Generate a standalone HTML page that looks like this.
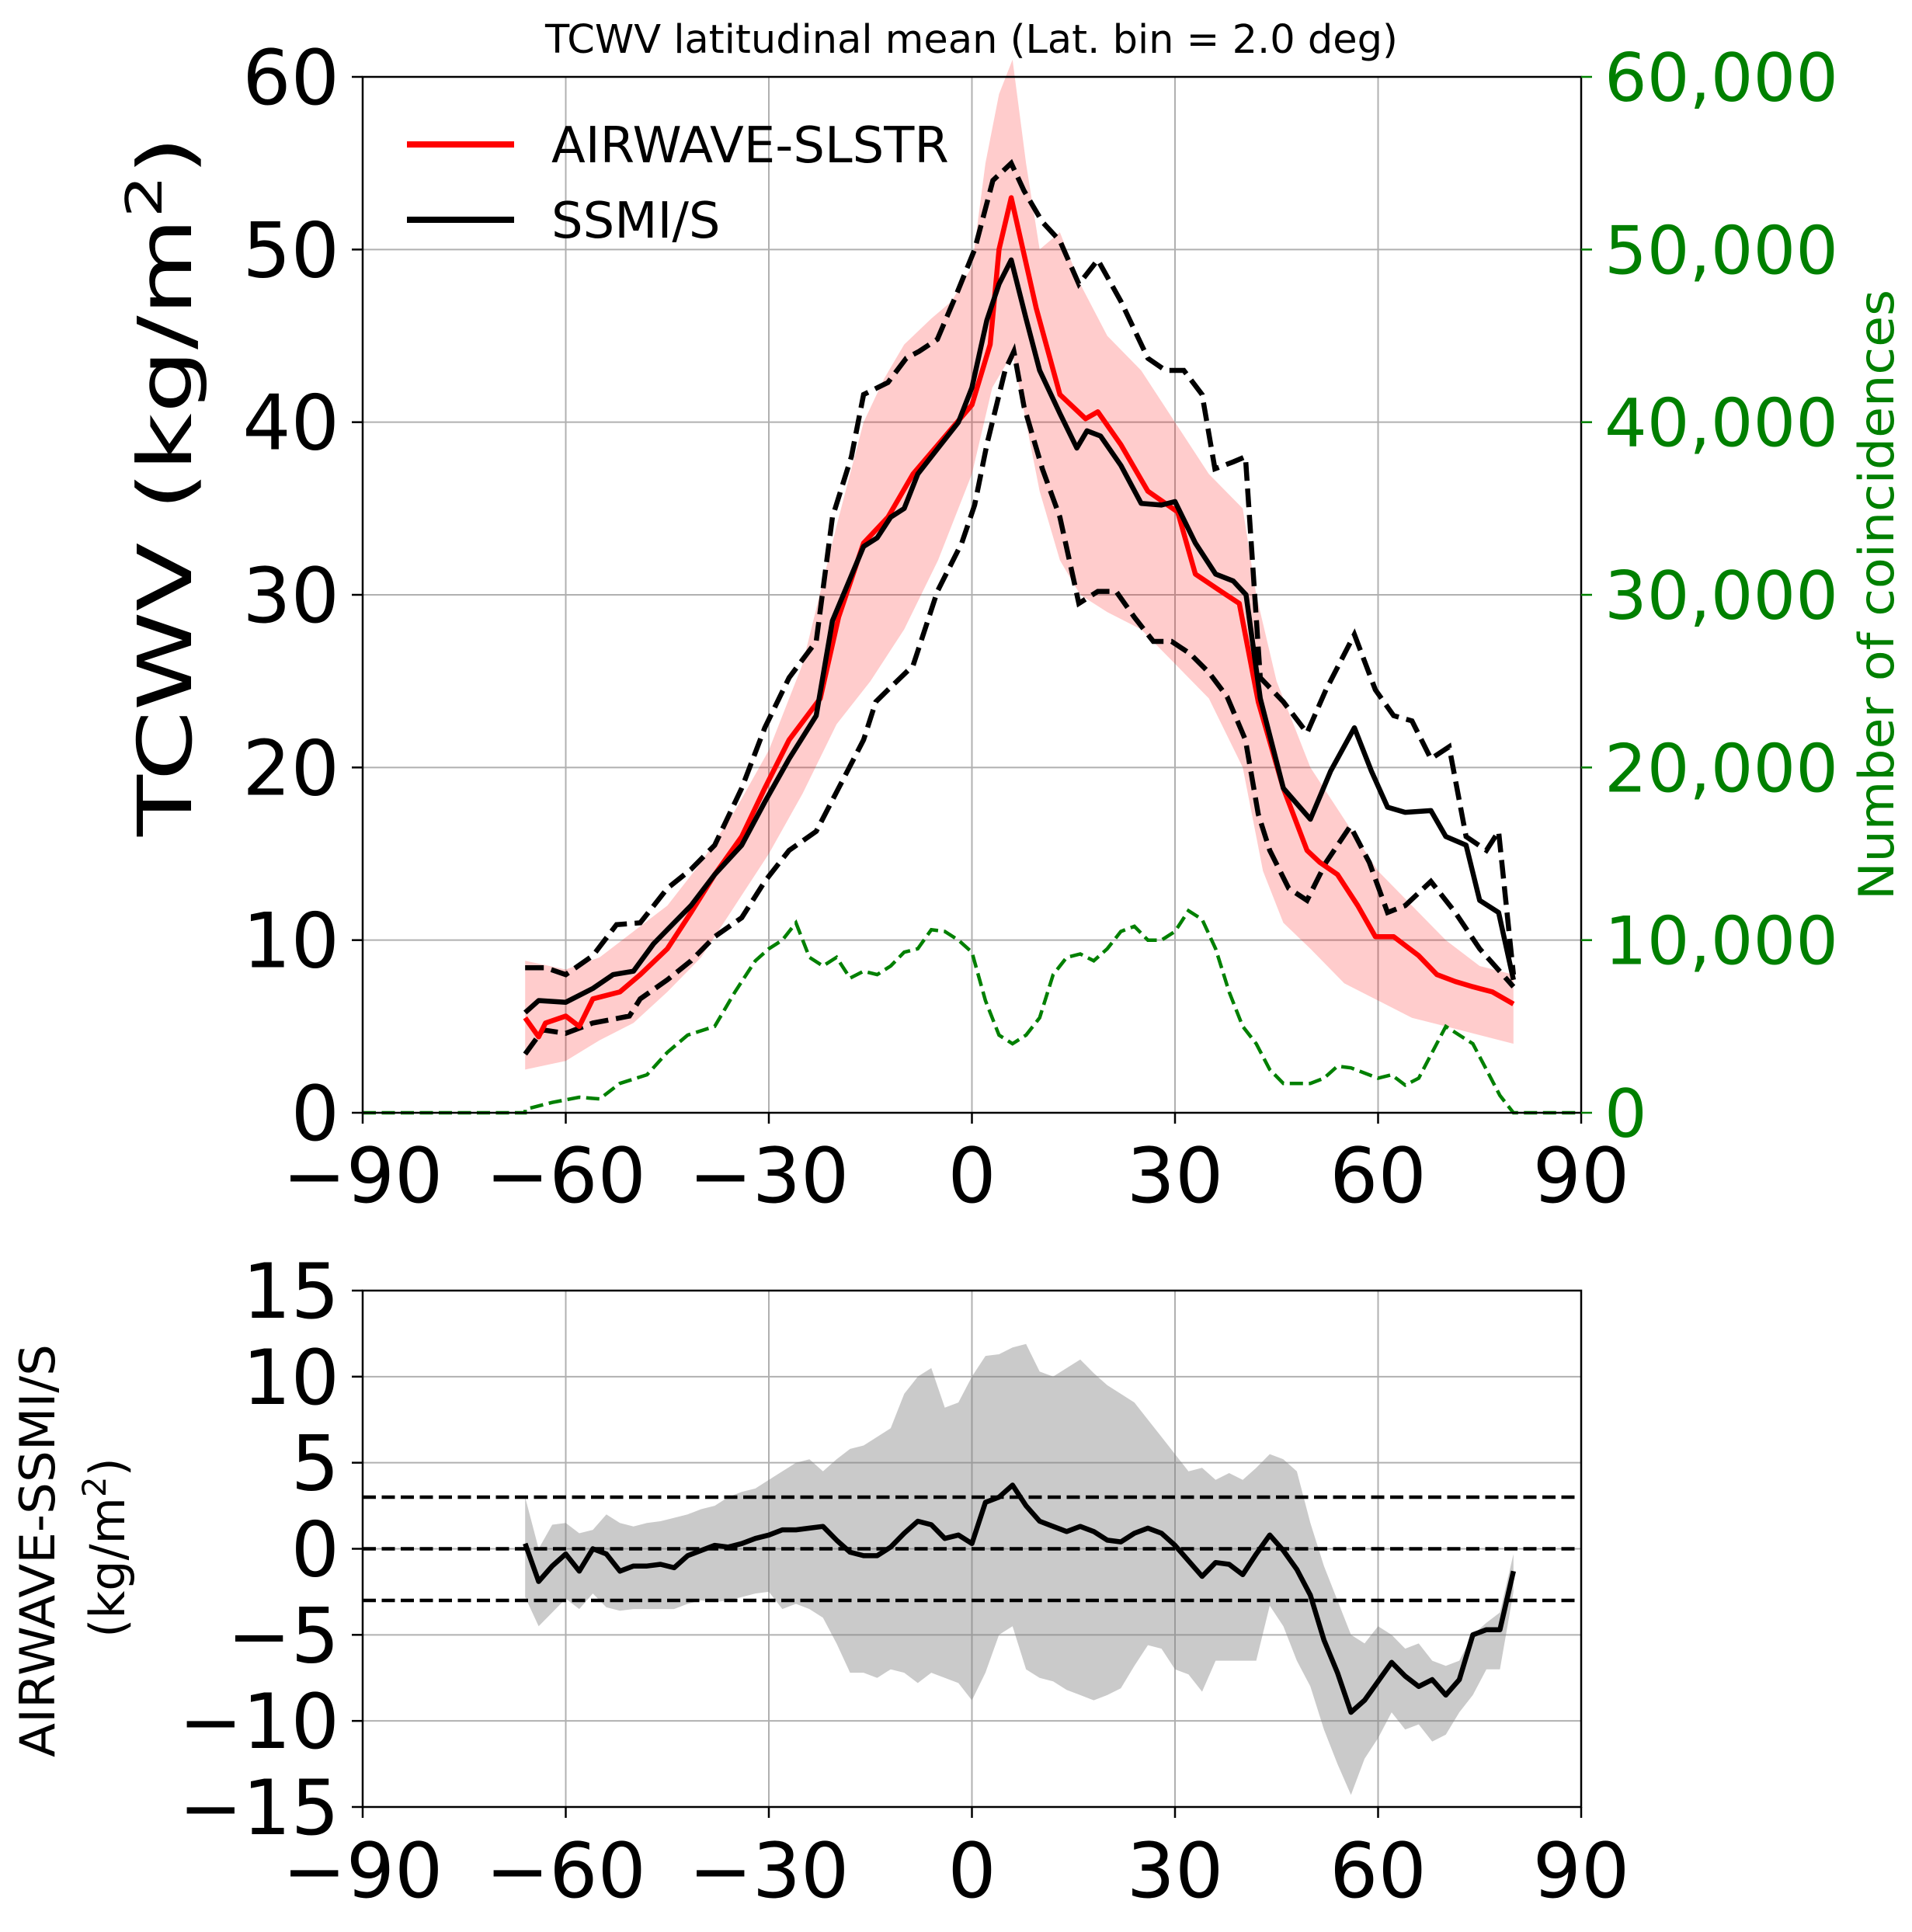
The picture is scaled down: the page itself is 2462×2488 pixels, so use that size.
<!DOCTYPE html>
<html><head><meta charset="utf-8"><style>
html,body{margin:0;padding:0;background:#fff;}
svg{display:block;font-family:"DejaVu Sans","Liberation Sans",sans-serif;}
</style></head><body>
<svg id="s" width="2462" height="2488" viewBox="0 0 2462 2488" xmlns="http://www.w3.org/2000/svg">
<rect width="2462" height="2488" fill="#fff"/>
<g id="g"></g>
<text x="1251" y="68" font-size="51" text-anchor="middle">TCWV latitudinal mean (Lat. bin = 2.0 deg)</text>
<text transform="translate(246,626) rotate(-90)" font-size="96" text-anchor="middle" textLength="902" lengthAdjust="spacingAndGlyphs">TCWV (kg/m<tspan font-size="64" dy="-38">2</tspan><tspan dy="38">)</tspan></text>
<text transform="translate(2438,766) rotate(-90)" font-size="62" fill="#008000" text-anchor="middle" textLength="786" lengthAdjust="spacingAndGlyphs">Number of coincidences</text>
<text transform="translate(70,1997) rotate(-90)" font-size="62" text-anchor="middle" textLength="532" lengthAdjust="spacingAndGlyphs">AIRWAVE-SSMI/S</text>
<text transform="translate(160,1993) rotate(-90)" font-size="62" text-anchor="middle">(kg/m<tspan font-size="42" dy="-24">2</tspan><tspan dy="24">)</tspan></text>
<line x1="524" y1="186" x2="662" y2="186" stroke="#f00" stroke-width="8"/>
<line x1="524" y1="283" x2="662" y2="283" stroke="#000" stroke-width="8"/>
<text x="710" y="209" font-size="64">AIRWAVE-SLSTR</text>
<text x="710" y="306" font-size="64">SSMI/S</text>
</svg>
<script>
const L=467,R=2036,T1=99,B1=1433,T2=1662,B2=2327;
const X=l=>L+(l+90)*(R-L)/180;
const Y1=v=>B1-v*(B1-T1)/60;
const Y2=v=>(T2+B2)/2-v*(B2-T2)/30;
let h='';
function pl(pts,fx,fy){return pts.map((p,i)=>(i?'L':'M')+fx(p[0]).toFixed(1)+','+fy(p[1]).toFixed(1)).join('');}
function P(a){const r=[];for(let i=0;i<a.length;i+=2)r.push([a[i],a[i+1]]);return r;}
for(let l=-60;l<=60;l+=30)h+=`<line x1="${X(l)}" y1="${T1}" x2="${X(l)}" y2="${B1}" stroke="#b0b0b0" stroke-width="2"/>`;
for(let v=10;v<=50;v+=10)h+=`<line x1="${L}" y1="${Y1(v)}" x2="${R}" y2="${Y1(v)}" stroke="#b0b0b0" stroke-width="2"/>`;
for(let l=-60;l<=60;l+=30)h+=`<line x1="${X(l)}" y1="${T2}" x2="${X(l)}" y2="${B2}" stroke="#b0b0b0" stroke-width="2"/>`;
for(let v=-10;v<=10;v+=5)h+=`<line x1="${L}" y1="${Y2(v)}" x2="${R}" y2="${Y2(v)}" stroke="#b0b0b0" stroke-width="2"/>`;
const ru=P([-66,8.8,-60,8.3,-55,9,-50,10.5,-45,12,-40,14.5,-35,17.5,-30,21,-25,26,-20,34,-16,40,-13,42.5,-10,44.5,-6,46,-3,47,0,49,2,55,4,59,6,61,8,55,10,50,13,51,16,48,20,45,25,43,30,40,35,37,40,35,42,30,45,25,50,20,55,17,60,14,65,12,70,10,75,8.5,80,8]);
const rl=P([-66,2.5,-60,3,-55,4.2,-50,5.2,-45,7,-40,9,-35,12,-30,15,-25,18.5,-20,22.5,-15,25,-10,28,-5,32,0,37,3,42,6,44,8,40,10,36,13,32,16,30,20,29,25,28,30,26,35,24,40,20,43,14,46,11,50,9.5,55,7.5,60,6.5,65,5.5,70,5,75,4.5,80,4]);
h+=`<path d="${pl(ru.concat(rl.slice().reverse()),X,Y1)}Z" fill="#f00" fill-opacity="0.2"/>`;
const red=P([-66,5.5,-64,4.4,-63,5.2,-60,5.6,-58,5,-56,6.6,-52,7,-49,8,-45,9.5,-41.5,11.6,-38,13.8,-34,16,-30.6,18.8,-27,21.6,-22.4,24,-19.7,28.7,-16,33,-12.4,34.5,-8.7,37,-5,38.7,0,41,2.7,44.5,4,50,5.8,53,9.5,46.6,13,41.6,16.8,40.2,18.6,40.6,22,38.7,26,36,30.4,34.8,33,31.2,36.8,30.2,39.5,29.5,42.3,23.8,46,18.8,49.5,15.2,51.4,14.5,54,13.8,57,12,59.6,10.2,62.3,10.2,66,9.1,68.7,8,71.4,7.6,74,7.3,76.9,7,80,6.3]);
const blk=P([-66,5.8,-64,6.5,-60,6.4,-56,7.2,-53,8,-50,8.2,-47,9.8,-44,11,-41.5,12,-38,13.8,-34,15.5,-30.6,18,-27,20.5,-23,23,-20.6,28.5,-16,32.8,-14,33.3,-12,34.5,-10,35,-8,37,-5,38.5,-2,40,0,42,2.2,45.9,4,48,5.8,49.4,8,46,10,43,13,40.5,15.5,38.5,17,39.5,19,39.2,22,37.5,25,35.3,28,35.2,30,35.4,33,33,36,31.2,38.6,30.8,40.5,30,42.6,24,46,18.8,50,17,53,19.8,56.5,22.3,59,19.8,61.4,17.7,64,17.4,67.8,17.5,70,16,73,15.5,75,12.3,77.8,11.6,80,7.7]);
const bu=P([-66,8.4,-63,8.4,-60,8,-56,9.1,-52.5,10.9,-49,11,-45,13,-41.5,14.1,-38,15.5,-34,18.8,-30.6,22.3,-27,25.2,-23,27.3,-20.6,34.5,-17.8,38,-16,41.6,-12.4,42.3,-9.7,43.7,-7.8,44.1,-5.1,44.8,-2.4,47.3,0.4,50,3.1,54,5.8,55,7.7,53.4,10.4,51.6,13,50.5,15.8,48,18.6,49.4,22,47,26,43.7,28.6,43,31.3,43,34,41.6,35.9,37.3,38.6,37.7,40.4,38,42.6,25.2,46,23.8,49.5,22,52.3,24.5,56.5,27.7,59.6,24.5,62.3,23,65,22.7,67.8,20.5,70.5,21.2,73,16,76,15.2,77.8,16.3,80,8]);
const bl=P([-66,3.4,-63.4,4.8,-60,4.6,-56,5.2,-50.6,5.6,-49,6.6,-45,7.7,-41.5,8.8,-38,10.2,-34,11.3,-30.6,13.4,-27,15.2,-23,16.3,-19.7,18.8,-16,21.6,-14.2,23.8,-12.4,24.5,-8.7,25.9,-5.1,30.2,-1.5,33,0.4,35.2,2.2,38.7,4.9,43,6.2,44.1,7.7,40.9,10.4,37.3,13,34.5,15.8,29.5,18.6,30.2,21.3,30.2,24,28.7,26.8,27.3,29.5,27.3,32.2,26.6,35,25.5,37.7,24.1,40.4,21.6,42.3,17.3,44,15.2,46.8,13,49.5,12.3,52.3,14.5,55.9,16.6,58.7,14.5,61.4,11.6,64,12,67.8,13.4,71.4,11.6,75,9.5,80,7.3]);
const gr=P([-90,0,-66,0,-66,0.2,-62,0.6,-58,0.9,-55,0.8,-52,1.7,-48,2.2,-45,3.5,-42,4.5,-38,5,-35,7,-32,8.8,-30,9.5,-28,10,-26,11,-24,9,-22,8.5,-20,9,-18,7.8,-16,8.2,-14,8,-12,8.5,-10,9.3,-8,9.5,-6,10.6,-4,10.5,-2,10,0,9.3,2,6.5,4,4.5,6,4,8,4.5,10,5.5,12,8,14,9,16,9.2,18,8.8,20,9.5,22,10.5,24,10.8,26,10,28,10,30,10.5,32,11.7,34,11.2,36,9.5,38,7,40,5,42,4,44,2.5,46,1.7,48,1.7,50,1.7,52,2,54,2.7,56,2.6,58,2.3,60,2,62,2.2,64,1.6,66,2,68,3.5,70,5,72,4.5,74,4,76,2.5,78,1,80,0,90,0]);
h+=`<path d="${pl(gr,X,Y1)}" fill="none" stroke="#008000" stroke-width="4.5" stroke-dasharray="17,7.5"/>`;
h+=`<path d="${pl(bu,X,Y1)}" fill="none" stroke="#000" stroke-width="6.5" stroke-dasharray="24,10"/>`;
h+=`<path d="${pl(bl,X,Y1)}" fill="none" stroke="#000" stroke-width="6.5" stroke-dasharray="24,10"/>`;
h+=`<path d="${pl(red,X,Y1)}" fill="none" stroke="#f00" stroke-width="6.5" stroke-linejoin="round"/>`;
h+=`<path d="${pl(blk,X,Y1)}" fill="none" stroke="#000" stroke-width="6.5" stroke-linejoin="round"/>`;
const lat=[];for(let l=-66;l<=80;l+=2)lat.push(l);
const dm=[0.3,-1.9,-1,-0.3,-1.3,0,-0.3,-1.3,-1,-1,-0.9,-1.1,-0.4,-0.1,0.2,0.1,0.3,0.6,0.8,1.1,1.1,1.2,1.3,0.5,-0.2,-0.4,-0.4,0.1,0.9,1.6,1.4,0.6,0.8,0.3,2.7,3,3.7,2.5,1.6,1.3,1,1.3,1,0.5,0.4,0.9,1.2,0.9,0.2,-0.7,-1.6,-0.8,-0.9,-1.5,-0.3,0.8,-0.1,-1.2,-2.7,-5.3,-7.2,-9.5,-8.8,-7.7,-6.6,-7.4,-8,-7.6,-8.5,-7.6,-5,-4.7,-4.7,-1.3];
const du=[3,0,1.4,1.5,0.9,1.1,2,1.5,1.3,1.5,1.6,1.8,2,2.3,2.5,3,3.3,3.5,4,4.5,5,5.2,4.5,5.2,5.8,6,6.5,7,9,10,10.5,8.2,8.5,10,11.2,11.3,11.7,11.9,10.3,10,10.5,11,10.2,9.5,9,8.5,7.5,6.5,5.5,4.5,4.7,4,4.4,4,4.7,5.5,5.2,4.5,1.5,-1,-3,-5,-5.5,-4.5,-5,-5.8,-5.5,-6.5,-6.8,-6.5,-5,-4.3,-3.7,-0.3];
const dl=[-2.8,-4.5,-3.7,-2.9,-3.5,-2.6,-3.4,-3.6,-3.5,-3.5,-3.5,-3.5,-3.2,-3,-3.1,-3,-2.8,-2.6,-2.5,-3.5,-3.2,-3.5,-4,-5.5,-7.2,-7.2,-7.5,-7,-7.2,-7.8,-7.2,-7.5,-7.8,-8.8,-7.2,-5,-4.5,-7,-7.5,-7.7,-8.2,-8.5,-8.8,-8.5,-8.1,-6.8,-5.6,-5.8,-7,-7.3,-8.3,-6.5,-6.5,-6.5,-6.5,-3.3,-4.5,-6.5,-8,-10.5,-12.5,-14.3,-12.2,-11,-9.5,-10.5,-10.2,-11.2,-10.8,-9.5,-8.5,-7,-7,-2.5];
const z=(a)=>lat.map((l,i)=>[l,a[i]]);
h+=`<path d="${pl(z(du).concat(z(dl).reverse()),X,Y2)}Z" fill="#808080" fill-opacity="0.42"/>`;
for(const v of [3,0,-3])h+=`<line x1="${L}" y1="${Y2(v)}" x2="${R}" y2="${Y2(v)}" stroke="#000" stroke-width="4.5" stroke-dasharray="17,7.5"/>`;
h+=`<path d="${pl(z(dm),X,Y2)}" fill="none" stroke="#000" stroke-width="6.5" stroke-linejoin="round"/>`;
h+=`<rect x="${L}" y="${T1}" width="${R-L}" height="${B1-T1}" fill="none" stroke="#000" stroke-width="2.5"/>`;
h+=`<rect x="${L}" y="${T2}" width="${R-L}" height="${B2-T2}" fill="none" stroke="#000" stroke-width="2.5"/>`;
const m=l=>l<0?'\u2212'+(-l):''+l;
for(let l=-90;l<=90;l+=30){const x=X(l);
 h+=`<line x1="${x}" y1="${B1}" x2="${x}" y2="${B1+14}" stroke="#000" stroke-width="2.5"/><text x="${x}" y="1548" font-size="98" text-anchor="middle">${m(l)}</text>`;
 h+=`<line x1="${x}" y1="${B2}" x2="${x}" y2="${B2+14}" stroke="#000" stroke-width="2.5"/><text x="${x}" y="2443" font-size="98" text-anchor="middle">${m(l)}</text>`;}
for(let v=0;v<=60;v+=10){const y=Y1(v);
 h+=`<line x1="${L-14}" y1="${y}" x2="${L}" y2="${y}" stroke="#000" stroke-width="2.5"/><text x="${L-30}" y="${y+35}" font-size="98" text-anchor="end">${v}</text>`;
 h+=`<line x1="${R}" y1="${y}" x2="${R+14}" y2="${y}" stroke="#008000" stroke-width="2.5"/><text x="${R+30}" y="${y+31}" font-size="86" fill="#008000">${v?v+',000':'0'}</text>`;}
for(let v=-15;v<=15;v+=5){const y=Y2(v);
 h+=`<line x1="${L-14}" y1="${y}" x2="${L}" y2="${y}" stroke="#000" stroke-width="2.5"/><text x="${L-30}" y="${y+35}" font-size="98" text-anchor="end">${m(v)}</text>`;}
document.getElementById('g').innerHTML=h;
</script>
</body></html>
